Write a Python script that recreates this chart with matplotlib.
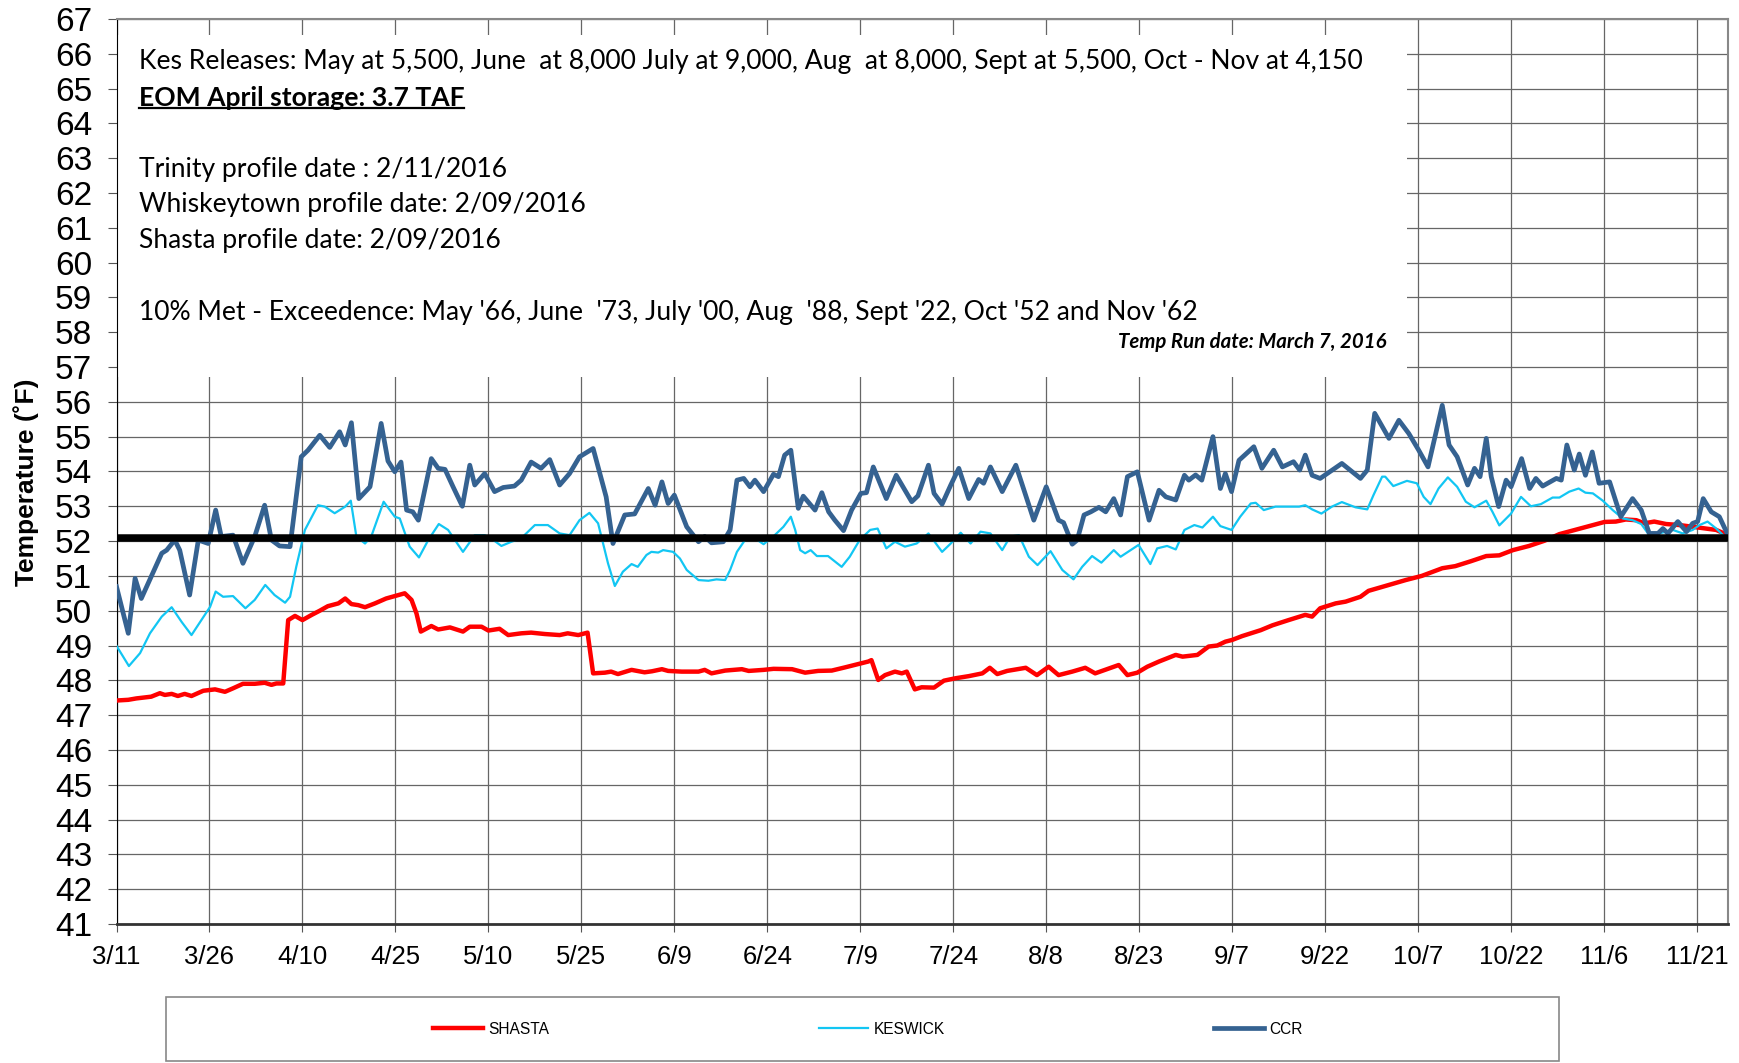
import matplotlib
matplotlib.use("Agg")
import matplotlib.pyplot as plt
from matplotlib.patches import Rectangle
from matplotlib.lines import Line2D

# days after 3/11/2016, temperatures in deg F
shasta_day = [0, 1.9, 3.2, 5.6, 7.0, 7.8, 8.9, 9.9, 11.0, 12.1, 14.0, 15.9, 17.5, 18.8, 20.4, 22.3,
              23.9, 25.0, 25.8, 26.9, 27.7, 28.8, 30.0, 31.5, 32.8, 34.1, 35.8, 36.9, 37.9, 39.0,
              40.1, 41.7, 43.5, 44.9, 46.5, 47.6, 48.4, 49.1, 50.8, 51.9, 53.8, 55.9, 57.0, 58.9,
              60.0, 61.8, 63.2, 65.3, 66.9, 69.1, 71.5, 72.8, 74.5, 76.0, 76.9, 78.8, 79.8, 80.9,
              83.1, 85.2, 86.4, 88.0, 89.0, 91.2, 93.9, 94.9, 96.0, 98.2, 100.9, 102.0, 104.4,
              106.0, 109.0, 111.1, 113.2, 115.4, 117.5, 119.7, 121.3, 121.8, 122.9, 124.0, 125.6,
              126.7, 127.5, 128.8, 129.9, 131.9, 133.5, 135.4, 137.5, 139.7, 140.9, 142.1, 143.7,
              146.7, 148.5, 150.4, 152.0, 154.2, 156.3, 157.9, 159.8, 161.7, 163.1, 164.7, 166.3,
              168.2, 170.9, 172.0, 174.4, 176.2, 177.6, 178.9, 180.0, 181.6, 184.6, 186.5, 189.1,
              191.8, 192.9, 194.2, 196.7, 198.3, 200.7, 202.0, 205.3, 208.0, 210.6, 213.9, 216.0,
              218.5, 221.0, 223.1, 225.3, 227.9, 230.4, 232.8, 235.5, 238.2, 240.1, 241.9, 243.5,
              245.2, 246.5, 248.1, 250.0, 252.2, 254.3, 256.5, 258.1, 260.0]
shasta_temp = [47.42, 47.44, 47.48, 47.53, 47.63, 47.58, 47.61, 47.55, 47.61, 47.55, 47.70, 47.74,
               47.67, 47.77, 47.90, 47.90, 47.93, 47.87, 47.91, 47.91, 49.73, 49.85, 49.73, 49.88,
               50.00, 50.13, 50.21, 50.35, 50.19, 50.16, 50.10, 50.21, 50.35, 50.42, 50.50, 50.31,
               49.92, 49.40, 49.56, 49.46, 49.52, 49.40, 49.54, 49.54, 49.43, 49.48, 49.30, 49.35,
               49.37, 49.33, 49.30, 49.35, 49.30, 49.37, 48.20, 48.22, 48.25, 48.18, 48.30, 48.23,
               48.26, 48.32, 48.27, 48.25, 48.25, 48.30, 48.20, 48.28, 48.32, 48.27, 48.30, 48.33,
               48.32, 48.22, 48.27, 48.28, 48.37, 48.47, 48.54, 48.58, 48.01, 48.15, 48.25, 48.20,
               48.25, 47.74, 47.80, 47.79, 47.99, 48.06, 48.12, 48.20, 48.36, 48.18, 48.27, 48.36,
               48.15, 48.39, 48.15, 48.25, 48.36, 48.20, 48.32, 48.44, 48.15, 48.22, 48.39, 48.54,
               48.73, 48.68, 48.73, 48.97, 49.00, 49.11, 49.16, 49.27, 49.44, 49.58, 49.73, 49.88,
               49.83, 50.07, 50.21, 50.26, 50.40, 50.57, 50.74, 50.88, 51.00, 51.22, 51.28, 51.42,
               51.57, 51.59, 51.74, 51.86, 52.01, 52.20, 52.33, 52.46, 52.55, 52.56, 52.62, 52.60,
               52.51, 52.56, 52.49, 52.46, 52.41, 52.36, 52.32, 52.17]

keswick_day = [0, 2.0, 3.8, 5.4, 7.3, 8.9, 10.5, 12.1, 13.7, 15.1, 16.0, 17.2, 18.8, 20.8, 22.3,
               24.0, 25.5, 27.2, 28.0, 29.0, 30.4, 32.5, 33.6, 35.2, 36.9, 37.8, 38.7, 40.1, 41.1,
               43.1, 44.9, 45.7, 47.3, 48.8, 50.3, 52.0, 53.5, 55.9, 57.8, 59.4, 60.8, 62.1, 63.7,
               65.3, 67.5, 69.6, 71.5, 73.1, 74.7, 76.3, 77.7, 79.3, 80.4, 81.7, 83.1, 84.1, 85.5,
               86.3, 87.4, 88.2, 89.8, 90.9, 92.0, 93.9, 95.5, 96.8, 98.2, 99.0, 100.1, 101.4,
               103.0, 104.4, 106.2, 107.6, 108.8, 109.5, 110.3, 111.1, 112.0, 113.0, 114.8, 117.0,
               118.3, 119.9, 121.6, 122.8, 124.2, 125.6, 127.2, 129.1, 131.0, 133.2, 134.6, 136.2,
               137.8, 139.4, 141.0, 142.9, 144.2, 145.6, 147.2, 148.6, 150.7, 152.6, 154.4, 155.8,
               157.4, 158.9, 160.9, 162.0, 164.9, 166.8, 167.9, 169.5, 170.9, 172.3, 173.9, 175.2,
               176.9, 178.1, 179.9, 181.3, 183.0, 183.8, 185.1, 187.0, 189.1, 190.8, 191.8, 192.9,
               194.4, 196.1, 197.7, 199.9, 201.8, 202.8, 204.2, 204.7, 206.0, 208.2, 209.8, 210.9,
               212.0, 213.3, 214.8, 216.3, 217.7, 219.1, 221.0, 222.0, 223.1, 225.0, 226.6, 228.2,
               229.8, 231.7, 232.8, 234.4, 235.9, 237.0, 238.2, 239.8, 241.4, 243.0, 244.6, 246.0,
               247.3, 248.9, 251.1, 252.7, 254.3, 255.4, 256.7, 258.1, 259.2]
keswick_temp = [48.99, 48.41, 48.78, 49.35, 49.83, 50.10, 49.68, 49.30, 49.73, 50.11, 50.55, 50.40,
                50.42, 50.07, 50.31, 50.74, 50.45, 50.23, 50.40, 51.26, 52.32, 53.03, 52.99, 52.80,
                52.99, 53.16, 52.13, 51.93, 52.13, 53.13, 52.70, 52.65, 51.84, 51.53, 52.03, 52.49,
                52.32, 51.69, 52.17, 52.17, 52.03, 51.86, 51.98, 52.08, 52.46, 52.46, 52.22, 52.17,
                52.60, 52.81, 52.51, 51.36, 50.71, 51.12, 51.34, 51.26, 51.60, 51.69, 51.67, 51.74,
                51.69, 51.50, 51.17, 50.88, 50.86, 50.90, 50.88, 51.17, 51.69, 52.03, 52.08, 51.91,
                52.17, 52.41, 52.70, 52.32, 51.74, 51.65, 51.74, 51.57, 51.57, 51.26, 51.55, 52.03,
                52.32, 52.36, 51.79, 51.98, 51.84, 51.93, 52.22, 51.69, 51.93, 52.24, 51.93, 52.27,
                52.22, 51.74, 52.13, 52.17, 51.55, 51.31, 51.71, 51.17, 50.90, 51.26, 51.57, 51.38,
                51.74, 51.55, 51.89, 51.34, 51.79, 51.86, 51.76, 52.32, 52.46, 52.39, 52.70, 52.43,
                52.32, 52.70, 53.08, 53.10, 52.89, 52.99, 52.99, 52.99, 53.03, 52.91, 52.79, 52.99,
                53.12, 52.97, 52.91, 53.32, 53.85, 53.85, 53.58, 53.73, 53.66, 53.27, 53.06, 53.51,
                53.83, 53.56, 53.13, 52.97, 53.16, 52.84, 52.45, 52.79, 53.27, 53.00, 53.06, 53.25,
                53.25, 53.42, 53.51, 53.39, 53.37, 53.16, 52.89, 52.65, 52.60, 52.49, 52.17, 52.22,
                52.32, 52.22, 52.32, 52.46, 52.56, 52.36, 52.17]

ccr_day = [0, 1.9, 3.0, 4.0, 5.6, 7.3, 8.1, 9.4, 10.2, 11.8, 13.2, 14.8, 16.0, 16.9, 18.8, 20.4,
           22.3, 23.9, 25.0, 26.3, 28.0, 29.8, 30.9, 32.8, 34.4, 36.0, 36.9, 37.9, 39.1, 40.9,
           42.7, 43.8, 44.9, 45.9, 46.8, 47.8, 48.7, 50.8, 51.9, 53.0, 54.3, 55.8, 57.0, 57.8,
           59.4, 61.0, 62.4, 64.2, 65.3, 66.9, 68.5, 69.9, 71.5, 73.1, 74.7, 76.9, 79.0, 80.1,
           82.0, 83.6, 85.8, 86.9, 88.0, 89.0, 90.0, 92.0, 93.9, 94.9, 96.0, 97.9, 99.0, 100.1,
           101.2, 102.2, 103.0, 104.4, 106.0, 106.8, 107.8, 108.8, 110.0, 110.8, 112.7, 113.8,
           114.9, 115.9, 117.3, 118.6, 120.1, 121.0, 122.1, 124.2, 125.8, 128.3, 129.3, 131.0,
           131.9, 133.2, 134.6, 135.9, 137.5, 139.1, 139.9, 141.0, 142.9, 145.1, 148.0, 150.0,
           152.0, 152.8, 154.2, 155.0, 156.1, 157.2, 158.5, 159.6, 160.9, 162.0, 163.1, 164.7,
           166.6, 168.2, 169.3, 170.9, 172.3, 173.0, 174.1, 175.1, 176.9, 178.1, 178.9, 179.9,
           181.1, 183.5, 184.8, 186.7, 188.1, 189.9, 190.9, 191.8, 192.9, 194.2, 197.7, 200.7,
           201.8, 203.0, 205.3, 206.9, 208.5, 210.1, 211.6, 213.9, 215.0, 216.3, 218.0, 219.1,
           220.0, 221.0, 221.8, 223.0, 224.2, 225.0, 226.7, 228.0, 229.0, 230.1, 232.3, 233.1,
           234.0, 235.2, 236.0, 237.0, 238.1, 239.2, 240.9, 242.7, 244.6, 246.0, 247.3, 248.7,
           249.5, 250.3, 251.9, 253.3, 254.3, 255.1, 256.0, 257.3, 258.6, 260.0]
ccr_temp = [50.69, 49.35, 50.93, 50.35, 50.98, 51.65, 51.74, 52.03, 51.74, 50.45, 52.03, 51.93,
            52.89, 52.13, 52.17, 51.36, 52.13, 53.03, 52.03, 51.86, 51.84, 54.42, 54.61, 55.04,
            54.69, 55.14, 54.76, 55.40, 53.22, 53.56, 55.38, 54.30, 53.99, 54.27, 52.89, 52.84,
            52.60, 54.37, 54.09, 54.06, 53.56, 53.00, 54.18, 53.61, 53.94, 53.42, 53.54, 53.58,
            53.75, 54.27, 54.09, 54.34, 53.61, 53.94, 54.42, 54.66, 53.27, 51.93, 52.75, 52.78,
            53.51, 53.03, 53.70, 53.08, 53.32, 52.41, 51.98, 52.13, 51.95, 51.98, 52.32, 53.75,
            53.80, 53.56, 53.75, 53.42, 53.92, 53.85, 54.47, 54.61, 52.94, 53.29, 52.89, 53.39,
            52.84, 52.60, 52.30, 52.89, 53.37, 53.39, 54.13, 53.22, 53.89, 53.13, 53.30, 54.18,
            53.37, 53.06, 53.61, 54.09, 53.22, 53.77, 53.66, 54.13, 53.42, 54.18, 52.60, 53.56,
            52.60, 52.53, 51.91, 52.03, 52.75, 52.84, 52.97, 52.84, 53.22, 52.75, 53.85, 53.99,
            52.60, 53.46, 53.27, 53.18, 53.89, 53.75, 53.90, 53.75, 55.00, 53.51, 53.94, 53.42,
            54.32, 54.71, 54.09, 54.61, 54.13, 54.28, 54.04, 54.47, 53.89, 53.80, 54.23, 53.80,
            54.04, 55.67, 54.95, 55.47, 55.09, 54.61, 54.13, 55.90, 54.76, 54.42, 53.61, 54.09,
            53.85, 54.95, 53.85, 52.99, 53.75, 53.56, 54.37, 53.51, 53.80, 53.58, 53.80, 53.75,
            54.76, 54.04, 54.50, 53.89, 54.56, 53.66, 53.70, 52.70, 53.22, 52.89, 52.22, 52.22,
            52.36, 52.22, 52.56, 52.27, 52.51, 52.56, 53.22, 52.84, 52.70, 52.17]

target_temp = 52.1

tick_labels = ['3/11', '3/26', '4/10', '4/25', '5/10', '5/25', '6/9', '6/24', '7/9', '7/24',
               '8/8', '8/23', '9/7', '9/22', '10/7', '10/22', '11/6', '11/21']

notes = [
    "Kes Releases: May at 5,500, June  at 8,000 July at 9,000, Aug  at 8,000, Sept at 5,500, Oct - Nov at 4,150",
    "EOM April storage: 3.7 TAF",
    "Trinity profile date : 2/11/2016",
    "Whiskeytown profile date: 2/09/2016",
    "Shasta profile date: 2/09/2016",
    "10% Met - Exceedence: May '66, June  '73, July '00, Aug  '88, Sept '22, Oct '52 and Nov '62",
]
run_date = "Temp Run date: March 7, 2016"

W, H = 1739, 1063
fig = plt.figure(figsize=(W / 100, H / 100), dpi=100)
ax = fig.add_axes([116.5 / W, 1 - 924 / H, (1728 - 116.5) / W, (924 - 18.9) / H])

ax.plot(shasta_day, shasta_temp, color='#ff0000', lw=3.2, solid_joinstyle='round', zorder=3, label='SHASTA')
ax.plot(keswick_day, keswick_temp, color='#12c6f3', lw=1.6, solid_joinstyle='round', zorder=3, label='KESWICK')
ax.plot(ccr_day, ccr_temp, color='#356291', lw=3.4, solid_joinstyle='round', zorder=3, label='CCR')
ax.axhline(target_temp, color='black', lw=5.4, zorder=4)

ax.set_xlim(0, 260)
ax.set_ylim(41, 67)
ax.set_yticks(range(41, 68))
ax.set_xticks(range(0, 15 * len(tick_labels), 15))
ax.set_xticklabels(tick_labels)
ax.grid(True, color='#666666', lw=0.9)
ax.set_axisbelow(True)

for lab in ax.get_yticklabels():
    lab.set_fontfamily('Liberation Sans')
    lab.set_fontsize(24)
for lab in ax.get_xticklabels():
    lab.set_fontfamily('Liberation Sans')
    lab.set_fontsize(18.5)
ax.tick_params(axis='y', length=6.5, width=0.8, pad=11, color='#555555')
ax.tick_params(axis='x', length=6, width=0.8, pad=9, color='#555555')

ax.spines['left'].set_color('black')
ax.spines['bottom'].set_color('#333333')
ax.spines['bottom'].set_linewidth(2)
ax.spines['top'].set_color('#888888')
ax.spines['right'].set_color('#888888')
ax.spines['top'].set_linewidth(1.5)
ax.spines['right'].set_linewidth(1.5)

ax.set_ylabel('Temperature (˚F)', fontfamily='Liberation Sans', fontweight='bold', fontsize=19)
ax.yaxis.set_label_coords(-0.048, 0.488)

# white note box over the top of the plot
ax.add_patch(Rectangle((0.15, 56.72), 208, 9.83, facecolor='white', edgecolor='none', zorder=1))

note_font = ['Lato', 'DejaVu Sans']
line_y = [62.0, 98.2, 169.2, 204.6, 240.1, 312.2]
for i, (txt, yy) in enumerate(zip(notes, line_y)):
    fig.text(138.6 / W, 1 - yy / H, txt, fontsize=19.1, family=note_font, va='center', ha='left',
             fontweight='bold' if i == 1 else 'normal')
fig.text(1386 / W, 1 - 341.6 / H, run_date, fontsize=14.7, family=note_font, fontweight='bold',
         fontstyle='italic', va='center', ha='right')

# underline the storage line
fig.canvas.draw()
t_eom = [t for t in fig.texts if t.get_text() == notes[1]][0]
bb = t_eom.get_window_extent()
fig.add_artist(Line2D([bb.x0 / W, bb.x1 / W], [(bb.y0 + 2) / H, (bb.y0 + 2) / H], color='black', lw=1.6))

# legend box at the bottom
fig.add_artist(Rectangle((166 / W, 1 - 1061 / H), (1559 - 166) / W, (1061 - 997) / H,
                         transform=fig.transFigure, facecolor='white', edgecolor='#888888', lw=1.2))
handles, labels = ax.get_legend_handles_labels()
fig.legend(handles, labels, loc='center', bbox_to_anchor=(868 / W, 1 - 1029 / H), ncol=3,
           frameon=False, prop={'family': 'Liberation Sans', 'size': 11.2},
           handlelength=3.2, handletextpad=0.35, columnspacing=17.3)

fig.savefig('out.png', dpi=100)
